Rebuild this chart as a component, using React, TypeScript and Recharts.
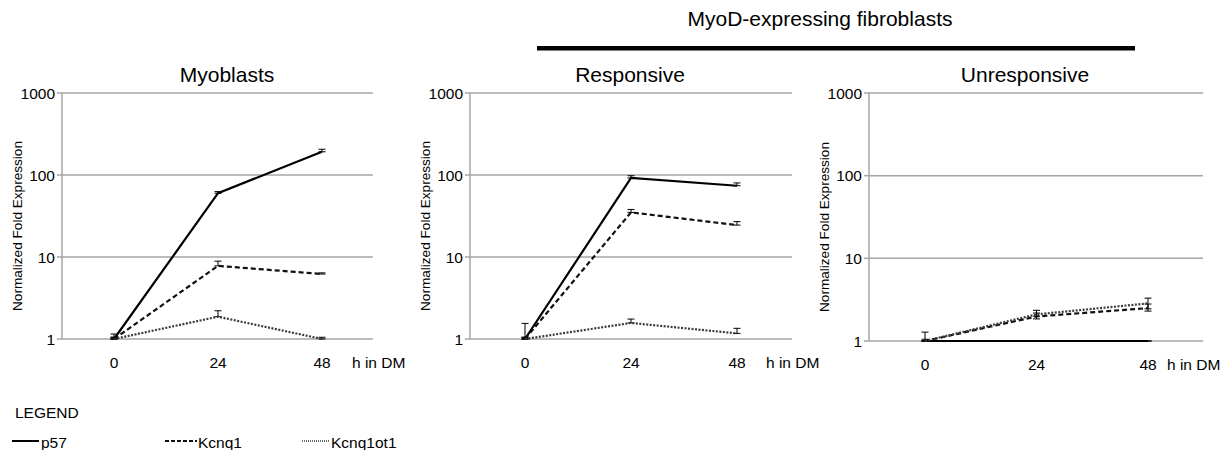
import { CartesianGrid, ErrorBar, Line, LineChart, XAxis, YAxis } from "recharts";

const FONT = '"Liberation Sans", Arial, sans-serif';
const GRID = "#a6a6a6";

const hours = ["0", "24", "48"];
const yTicks = [1, 10, 100, 1000];

// Myoblasts
const myoP57 = [1, 60, 192];
const myoP57Err = [[0, 0.15], [0, 2.7], [0, 14]];
const myoKcnq1 = [1, 7.8, 6.2];
const myoKcnq1Err = [[0, 0.05], [0, 1.1], [0, 0.2]];
const myoKcnq1ot1 = [1, 1.87, 1.0];
const myoKcnq1ot1Err = [[0, 0.05], [0, 0.34], [0, 0.05]];

// MyoD fibroblasts, responsive
const resP57 = [1, 92, 74];
const resP57Err = [[0, 0.55], [0, 6], [0, 6]];
const resKcnq1 = [1, 35, 24.5];
const resKcnq1Err = [[0, 0.05], [0, 3], [0, 2.5]];
const resKcnq1ot1 = [1, 1.57, 1.17];
const resKcnq1ot1Err = [[0, 0.05], [0, 0.18], [0, 0.18]];

// MyoD fibroblasts, unresponsive
const unrP57 = [1, 1, 1];
const unrP57Err = [[0, 0], [0, 0], [0, 0]];
const unrKcnq1 = [1, 1.98, 2.5];
const unrKcnq1Err = [[0, 0.05], [0.13, 0.2], [0.2, 0.3]];
const unrKcnq1ot1 = [1, 2.1, 2.85];
const unrKcnq1ot1Err = [[0, 0.28], [0.1, 0.25], [0.4, 0.45]];

const series = [
  { key: "p57", name: "p57", stroke: "#000", width: 2.2, dash: undefined },
  { key: "kcnq1", name: "Kcnq1", stroke: "#111", width: 2.2, dash: "5 3" },
  { key: "kcnq1ot1", name: "Kcnq1ot1", stroke: "#3a3a3a", width: 2.2, dash: "2 1.5" },
];

const buildRows = (p57, p57Err, kcnq1, kcnq1Err, ot1, ot1Err) =>
  hours.map((h, i) => ({
    h,
    p57: p57[i],
    p57Err: p57Err[i],
    kcnq1: kcnq1[i],
    kcnq1Err: kcnq1Err[i],
    kcnq1ot1: ot1[i],
    kcnq1ot1Err: ot1Err[i],
  }));

const panels = [
  {
    title: "Myoblasts",
    titleX: 227,
    rows: buildRows(myoP57, myoP57Err, myoKcnq1, myoKcnq1Err, myoKcnq1ot1, myoKcnq1ot1Err),
    left: 0, width: 410, yWidth: 62, right: 37, bottom: 11,
    pad: { left: 52, right: 51 }, hOffset: -21,
  },
  {
    title: "Responsive",
    titleX: 630,
    rows: buildRows(resP57, resP57Err, resKcnq1, resKcnq1Err, resKcnq1ot1, resKcnq1ot1Err),
    left: 400, width: 428, yWidth: 70, right: 36, bottom: 11,
    pad: { left: 55, right: 55 }, hOffset: -26,
  },
  {
    title: "Unresponsive",
    titleX: 1025,
    rows: buildRows(unrP57, unrP57Err, unrKcnq1, unrKcnq1Err, unrKcnq1ot1, unrKcnq1ot1Err),
    left: 800, width: 428, yWidth: 69, right: 25, bottom: 9,
    pad: { left: 56, right: 55 }, hOffset: -36,
  },
];

const tickStyle = { fill: "#000", fontSize: 15.5, fontFamily: FONT };

const Panel = ({ p }) => (
  <div style={{ position: "absolute", left: p.left, top: 60 }}>
    <LineChart
      width={p.width}
      height={320}
      data={p.rows}
      margin={{ top: 33, right: p.right, bottom: p.bottom, left: 0 }}
    >
      <CartesianGrid vertical={false} stroke={GRID} strokeWidth={1.5} />
      <XAxis
        dataKey="h"
        axisLine={false}
        tickLine={false}
        tickSize={0}
        tickMargin={18}
        height={30}
        interval={0}
        padding={p.pad}
        tick={tickStyle}
        label={({ viewBox }) => (
          <text
            x={viewBox.x + viewBox.width + p.hOffset}
            y={viewBox.y + 29}
            fill="#000"
            fontSize={15.5}
            fontFamily={FONT}
          >
            h in DM
          </text>
        )}
      />
      <YAxis
        scale="log"
        domain={[1, 1000]}
        ticks={yTicks}
        interval={0}
        width={p.yWidth}
        axisLine={{ stroke: GRID, strokeWidth: 1.5 }}
        tickLine={{ stroke: GRID, strokeWidth: 1.5 }}
        tickSize={5}
        tickMargin={2}
        tick={tickStyle}
        label={({ viewBox }) => {
          const cx = viewBox.x + viewBox.width - 45;
          const cy = viewBox.y + viewBox.height / 2 + 10;
          return (
            <text
              x={cx}
              y={cy}
              transform={`rotate(-90 ${cx} ${cy})`}
              textAnchor="middle"
              dominantBaseline="central"
              fill="#000"
              fontSize={13.6}
              fontFamily={FONT}
            >
              Normalized Fold Expression
            </text>
          );
        }}
      />
      {series.map((s) => (
        <Line
          key={s.key}
          dataKey={s.key}
          name={s.name}
          stroke={s.stroke}
          strokeWidth={s.width}
          strokeDasharray={s.dash}
          dot={false}
          activeDot={false}
          isAnimationActive={false}
        >
          <ErrorBar
            dataKey={`${s.key}Err`}
            direction="y"
            width={3.5}
            stroke="#000"
            strokeWidth={1}
            isAnimationActive={false}
          />
        </Line>
      ))}
    </LineChart>
  </div>
);

const legendX = [
  { x1: 12, x2: 39, tx: 41 },
  { x1: 165, x2: 197, tx: 198 },
  { x1: 302, x2: 330, tx: 331 },
];

export default function App() {
  return (
    <div
      style={{
        position: "absolute",
        left: 0,
        top: 0,
        width: 1228,
        height: 450,
        background: "#fff",
        overflow: "hidden",
        fontFamily: FONT,
      }}
    >
      <svg
        width={1228}
        height={450}
        style={{ position: "absolute", left: 0, top: 0 }}
        fontFamily={FONT}
      >
        <text x={820} y={26} textAnchor="middle" fontSize={21} fill="#000">
          MyoD-expressing fibroblasts
        </text>
        <rect x={537} y={46} width={598} height={4.5} fill="#000" />
        {panels.map((p) => (
          <text key={p.title} x={p.titleX} y={82} textAnchor="middle" fontSize={21} fill="#000">
            {p.title}
          </text>
        ))}
        <text x={15} y={418} fontSize={15.5} fill="#000">
          LEGEND
        </text>
        {series.map((s, i) => (
          <g key={s.key}>
            <line
              x1={legendX[i].x1}
              x2={legendX[i].x2}
              y1={441}
              y2={441}
              stroke={s.stroke}
              strokeWidth={i === 2 ? 1.5 : 2}
              strokeDasharray={i === 1 ? "4 2" : i === 2 ? "1 1" : undefined}
            />
            <text x={legendX[i].tx} y={448} fontSize={15.5} fill="#000">
              {s.name}
            </text>
          </g>
        ))}
      </svg>
      {panels.map((p) => (
        <Panel key={p.title} p={p} />
      ))}
    </div>
  );
}
